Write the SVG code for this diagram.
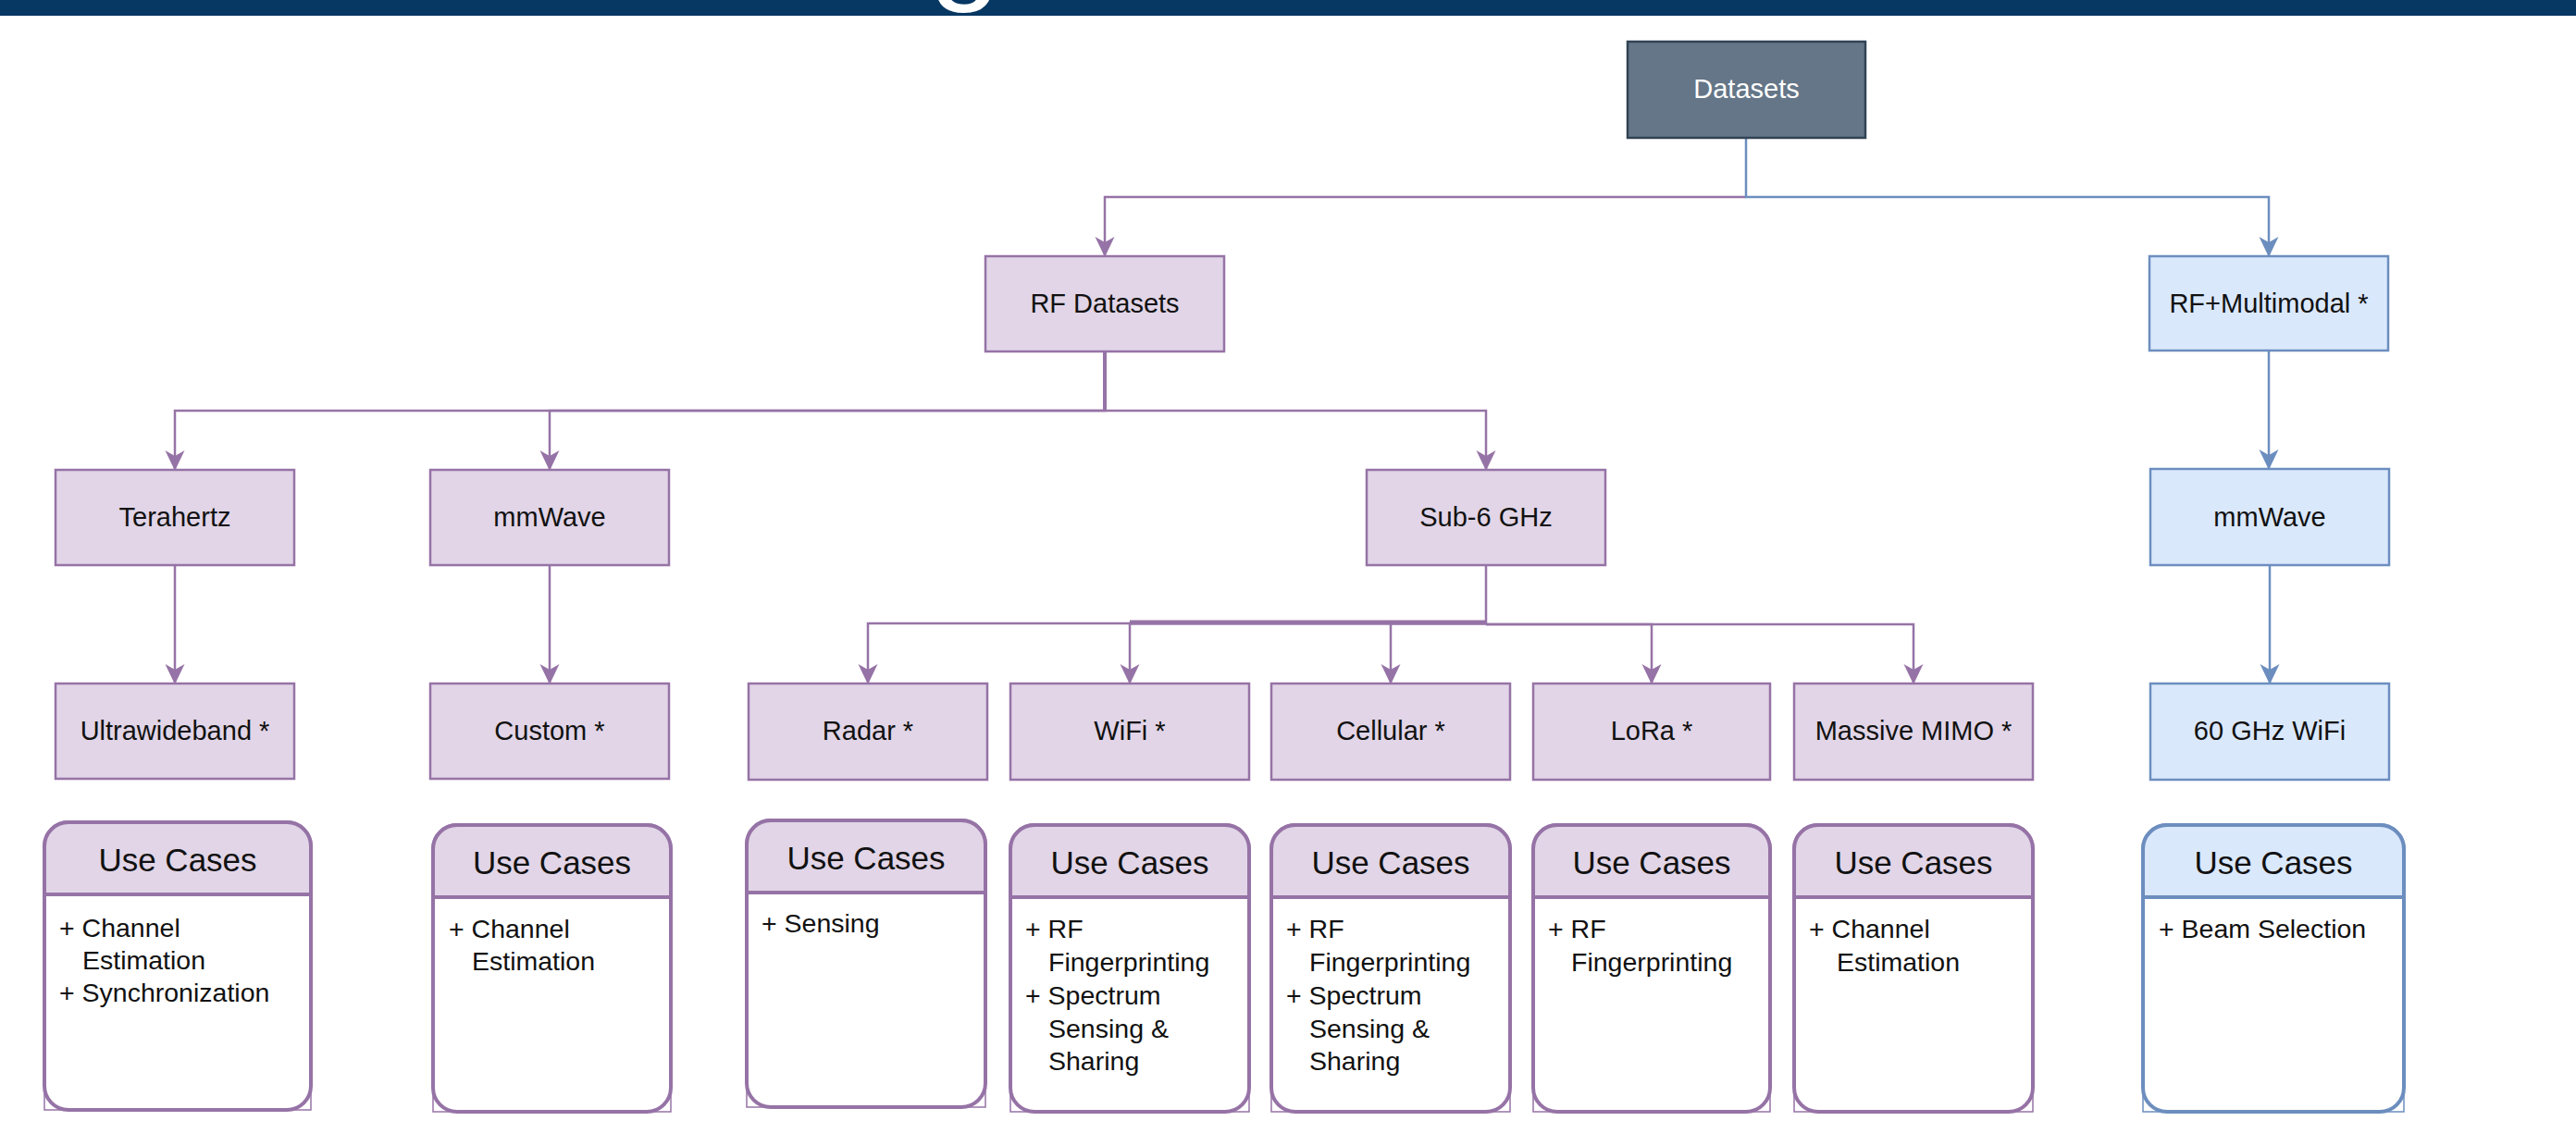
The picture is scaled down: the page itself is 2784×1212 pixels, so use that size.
<svg xmlns="http://www.w3.org/2000/svg" width="2784" height="1212" viewBox="0 0 2784 1212">
  <style>
    .lbl { font-family: "Liberation Sans", Arial, sans-serif; font-size: 29px; fill: #111; text-anchor: middle; }
    .lbl-w { fill: #ffffff; }
    .uc-h { font-family: "Liberation Sans", Arial, sans-serif; font-size: 35px; fill: #111; text-anchor: middle; }
    .uc-t { font-family: "Liberation Sans", Arial, sans-serif; font-size: 28.5px; fill: #111; }
    .n-p { fill: #e1d5e7; stroke: #9673a6; stroke-width: 2.5; }
    .n-b { fill: #dae8fc; stroke: #6c8ebf; stroke-width: 2.5; }
    .n-d { fill: #647687; stroke: #314354; stroke-width: 2.5; }
    .e-p { fill: none; stroke: #9673a6; stroke-width: 2.5; }
    .e-b { fill: none; stroke: #6c8ebf; stroke-width: 2.5; }
    .uc-body { fill: #ffffff; stroke-width: 4; }
    .uc-corner { fill: none; stroke-width: 1.5; }
    .uc-p .uc-body, .uc-p .uc-corner, .uc-p .uc-head, .uc-p .uc-div { stroke: #9673a6; }
    .uc-b .uc-body, .uc-b .uc-corner, .uc-b .uc-head, .uc-b .uc-div { stroke: #6c8ebf; }
    .uc-p .uc-head { fill: #e1d5e7; stroke-width: 4; }
    .uc-b .uc-head { fill: #dae8fc; stroke-width: 4; }
    .uc-div { stroke-width: 4; }
  </style>
  <defs>
    <marker id="arrP" markerUnits="userSpaceOnUse" markerWidth="22" markerHeight="22" viewBox="0 0 22 22" refX="21" refY="11" orient="auto">
      <path d="M0,0.5 L22,11 L0,21.5 L6,11 Z" fill="#9673a6"/>
    </marker>
    <marker id="arrB" markerUnits="userSpaceOnUse" markerWidth="22" markerHeight="22" viewBox="0 0 22 22" refX="21" refY="11" orient="auto">
      <path d="M0,0.5 L22,11 L0,21.5 L6,11 Z" fill="#6c8ebf"/>
    </marker>
    <clipPath id="bannerClip">
      <rect x="0" y="0" width="2784" height="17"/>
    </clipPath>
  </defs>

  <!-- page banner -->
  <g id="banner">
    <rect x="0" y="0" width="2784" height="17" fill="#073763"/>
    <text x="1004" y="-15" clip-path="url(#bannerClip)" font-family="Liberation Sans, Arial, sans-serif" font-size="140" fill="#ffffff">g</text>
  </g>

  <!-- connectors -->
  <g id="connectors">
    <path class="e-p" d="M1887,213 H1194 V277" marker-end="url(#arrP)"/>
    <path class="e-b" d="M1887,149 V213 H2452 V277" marker-end="url(#arrB)"/>

    <path class="e-p" d="M1194,380 V444 H189 V508" marker-end="url(#arrP)"/>
    <path class="e-p" d="M1194,444 H594 V508" marker-end="url(#arrP)"/>
    <path class="e-p" d="M1194,444 H1606 V508" marker-end="url(#arrP)"/>
    <path class="e-p" d="M1194,380 V444" style="stroke-width:4"/>

    <path class="e-p" d="M189,611 V739" marker-end="url(#arrP)"/>
    <path class="e-p" d="M594,611 V739" marker-end="url(#arrP)"/>

    <path class="e-p" d="M1606,611 V674 H938 V739" marker-end="url(#arrP)"/>
    <path class="e-p" d="M1606,674 H1221 V739" marker-end="url(#arrP)"/>
    <path class="e-p" d="M1606,674 H1503 V739" marker-end="url(#arrP)"/>
    <path class="e-p" d="M1606,675 H1785 V739" marker-end="url(#arrP)"/>
    <path class="e-p" d="M1606,675 H2068 V739" marker-end="url(#arrP)"/>
    <path class="e-p" d="M1221,673 H1606" style="stroke-width:5"/>

    <path class="e-b" d="M2452,379 V507" marker-end="url(#arrB)"/>
    <path class="e-b" d="M2453,611 V739" marker-end="url(#arrB)"/>
  </g>

  <!-- tree nodes -->
  <g id="datasets">
    <rect class="n-d" x="1759" y="45" width="257" height="104"/>
    <text class="lbl lbl-w" x="1887.5" y="106">Datasets</text>
  </g>
  <g id="rf-datasets">
    <rect class="n-p" x="1065" y="277" width="258" height="103"/>
    <text class="lbl" x="1194" y="338">RF Datasets</text>
  </g>
  <g id="rf-multimodal">
    <rect class="n-b" x="2323" y="277" width="258" height="102"/>
    <text class="lbl" x="2452" y="338">RF+Multimodal *</text>
  </g>
  <g id="terahertz">
    <rect class="n-p" x="60" y="508" width="258" height="103"/>
    <text class="lbl" x="189" y="569">Terahertz</text>
  </g>
  <g id="mmwave-rf">
    <rect class="n-p" x="465" y="508" width="258" height="103"/>
    <text class="lbl" x="594" y="569">mmWave</text>
  </g>
  <g id="sub6">
    <rect class="n-p" x="1477" y="508" width="258" height="103"/>
    <text class="lbl" x="1606" y="569">Sub-6 GHz</text>
  </g>
  <g id="mmwave-mm">
    <rect class="n-b" x="2324" y="507" width="258" height="104"/>
    <text class="lbl" x="2453" y="569">mmWave</text>
  </g>
  <g id="ultrawideband">
    <rect class="n-p" x="60" y="739" width="258" height="103"/>
    <text class="lbl" x="189" y="800">Ultrawideband *</text>
  </g>
  <g id="custom">
    <rect class="n-p" x="465" y="739" width="258" height="103"/>
    <text class="lbl" x="594" y="800">Custom *</text>
  </g>
  <g id="radar">
    <rect class="n-p" x="809" y="739" width="258" height="104"/>
    <text class="lbl" x="938" y="800">Radar *</text>
  </g>
  <g id="wifi">
    <rect class="n-p" x="1092" y="739" width="258" height="104"/>
    <text class="lbl" x="1221" y="800">WiFi *</text>
  </g>
  <g id="cellular">
    <rect class="n-p" x="1374" y="739" width="258" height="104"/>
    <text class="lbl" x="1503" y="800">Cellular *</text>
  </g>
  <g id="lora">
    <rect class="n-p" x="1657" y="739" width="256" height="104"/>
    <text class="lbl" x="1785" y="800">LoRa *</text>
  </g>
  <g id="massive-mimo">
    <rect class="n-p" x="1939" y="739" width="258" height="104"/>
    <text class="lbl" x="2068" y="800">Massive MIMO *</text>
  </g>
  <g id="wifi-60ghz">
    <rect class="n-b" x="2324" y="739" width="258" height="104"/>
    <text class="lbl" x="2453" y="800">60 GHz WiFi</text>
  </g>

  <!-- use case cards -->
  <g id="uc-ultrawideband" class="uc-p">
    <rect class="uc-corner" x="48" y="967" width="288" height="233"/>
    <rect class="uc-body" x="48" y="889" width="288" height="311" rx="26"/>
    <path class="uc-head" d="M48,967 V915 A26,26 0 0 1 74,889 H310 A26,26 0 0 1 336,915 V967 Z"/>
    <text class="uc-h" x="192" y="942">Use Cases</text>
    <text class="uc-t" x="64" y="1013">+ Channel</text>
    <text class="uc-t" x="89" y="1048">Estimation</text>
    <text class="uc-t" x="64" y="1083">+ Synchronization</text>
  </g>
  <g id="uc-custom" class="uc-p">
    <rect class="uc-corner" x="468" y="970" width="257" height="232"/>
    <rect class="uc-body" x="468" y="892" width="257" height="310" rx="26"/>
    <path class="uc-head" d="M468,970 V918 A26,26 0 0 1 494,892 H699 A26,26 0 0 1 725,918 V970 Z"/>
    <text class="uc-h" x="596.5" y="945">Use Cases</text>
    <text class="uc-t" x="485" y="1014">+ Channel</text>
    <text class="uc-t" x="510" y="1049">Estimation</text>
  </g>
  <g id="uc-radar" class="uc-p">
    <rect class="uc-corner" x="807" y="965" width="258" height="232"/>
    <rect class="uc-body" x="807" y="887" width="258" height="310" rx="26"/>
    <path class="uc-head" d="M807,965 V913 A26,26 0 0 1 833,887 H1039 A26,26 0 0 1 1065,913 V965 Z"/>
    <text class="uc-h" x="936" y="940">Use Cases</text>
    <text class="uc-t" x="823" y="1008">+ Sensing</text>
  </g>
  <g id="uc-wifi" class="uc-p">
    <rect class="uc-corner" x="1092" y="970" width="258" height="232"/>
    <rect class="uc-body" x="1092" y="892" width="258" height="310" rx="26"/>
    <path class="uc-head" d="M1092,970 V918 A26,26 0 0 1 1118,892 H1324 A26,26 0 0 1 1350,918 V970 Z"/>
    <text class="uc-h" x="1221" y="945">Use Cases</text>
    <text class="uc-t" x="1108" y="1014">+ RF</text>
    <text class="uc-t" x="1133" y="1050">Fingerprinting</text>
    <text class="uc-t" x="1108" y="1086">+ Spectrum</text>
    <text class="uc-t" x="1133" y="1122">Sensing &amp;</text>
    <text class="uc-t" x="1133" y="1157">Sharing</text>
  </g>
  <g id="uc-cellular" class="uc-p">
    <rect class="uc-corner" x="1374" y="970" width="258" height="232"/>
    <rect class="uc-body" x="1374" y="892" width="258" height="310" rx="26"/>
    <path class="uc-head" d="M1374,970 V918 A26,26 0 0 1 1400,892 H1606 A26,26 0 0 1 1632,918 V970 Z"/>
    <text class="uc-h" x="1503" y="945">Use Cases</text>
    <text class="uc-t" x="1390" y="1014">+ RF</text>
    <text class="uc-t" x="1415" y="1050">Fingerprinting</text>
    <text class="uc-t" x="1390" y="1086">+ Spectrum</text>
    <text class="uc-t" x="1415" y="1122">Sensing &amp;</text>
    <text class="uc-t" x="1415" y="1157">Sharing</text>
  </g>
  <g id="uc-lora" class="uc-p">
    <rect class="uc-corner" x="1657" y="970" width="256" height="232"/>
    <rect class="uc-body" x="1657" y="892" width="256" height="310" rx="26"/>
    <path class="uc-head" d="M1657,970 V918 A26,26 0 0 1 1683,892 H1887 A26,26 0 0 1 1913,918 V970 Z"/>
    <text class="uc-h" x="1785" y="945">Use Cases</text>
    <text class="uc-t" x="1673" y="1014">+ RF</text>
    <text class="uc-t" x="1698" y="1050">Fingerprinting</text>
  </g>
  <g id="uc-massive-mimo" class="uc-p">
    <rect class="uc-corner" x="1939" y="970" width="258" height="232"/>
    <rect class="uc-body" x="1939" y="892" width="258" height="310" rx="26"/>
    <path class="uc-head" d="M1939,970 V918 A26,26 0 0 1 1965,892 H2171 A26,26 0 0 1 2197,918 V970 Z"/>
    <text class="uc-h" x="2068" y="945">Use Cases</text>
    <text class="uc-t" x="1955" y="1014">+ Channel</text>
    <text class="uc-t" x="1985" y="1050">Estimation</text>
  </g>
  <g id="uc-wifi-60ghz" class="uc-b">
    <rect class="uc-corner" x="2316" y="970" width="282" height="232"/>
    <rect class="uc-body" x="2316" y="892" width="282" height="310" rx="26"/>
    <path class="uc-head" d="M2316,970 V918 A26,26 0 0 1 2342,892 H2572 A26,26 0 0 1 2598,918 V970 Z"/>
    <text class="uc-h" x="2457" y="945">Use Cases</text>
    <text class="uc-t" x="2333" y="1014">+ Beam Selection</text>
  </g>
</svg>
